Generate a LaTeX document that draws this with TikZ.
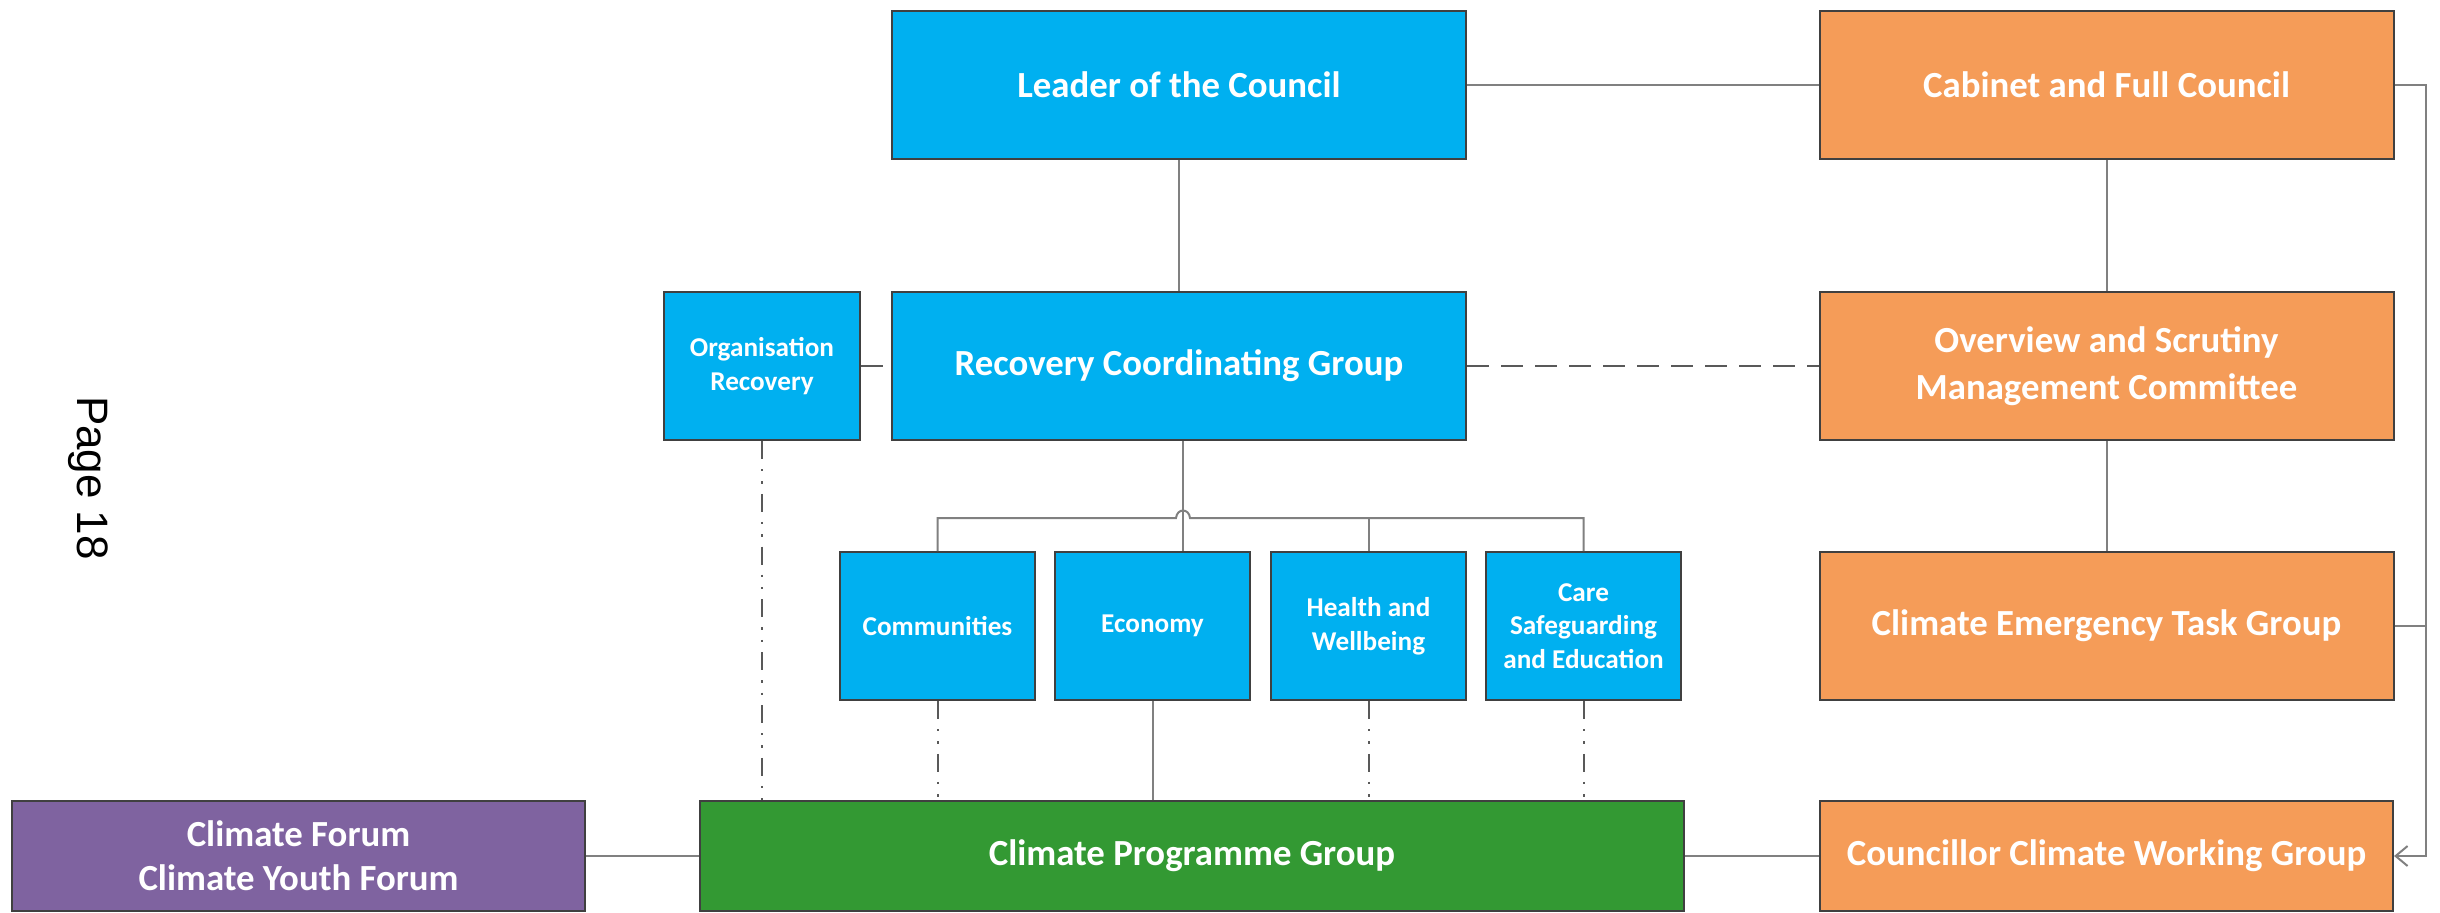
\documentclass[tikz,border=0pt]{standalone}
\usepackage{fontspec}
\setmainfont{Carlito}
\setsansfont{Liberation Sans}
\usetikzlibrary{arrows.meta}
\definecolor{cblue}{HTML}{00B0F0}
\definecolor{corange}{HTML}{F59C58}
\definecolor{cgreen}{HTML}{339933}
\definecolor{cpurple}{HTML}{7F63A0}
\definecolor{cborder}{HTML}{404040}
\definecolor{cline}{HTML}{808080}
\definecolor{cdash}{HTML}{595959}
\begin{document}
\begin{tikzpicture}[x=0.25pt,y=-0.25pt,
  box/.style={draw=cborder, line width=0.5pt, text=white, align=center, inner sep=0pt},
  bigbox/.style={box, minimum width=143.5pt, minimum height=37pt, font=\bfseries\fontsize{9.2}{11.7}\selectfont},
  smallbox/.style={box, minimum width=48.75pt, minimum height=37pt, font=\bfseries\fontsize{6.8}{8.4}\selectfont},
  botbox/.style={box, minimum height=27.5pt, font=\bfseries\fontsize{9.2}{11}\selectfont},
  conn/.style={draw=cline, line width=0.5pt},
  dconn/.style={draw=cdash, line width=0.6pt, dash pattern=on 5.5pt off 3pt},
  ddconn/.style={draw=cdash, line width=0.5pt, dash pattern=on 4.5pt off 2.5pt on 0.6pt off 2.5pt on 0.6pt off 2.5pt}
]
\useasboundingbox (0,0) rectangle (2440,912);
\begin{scope}
\clip (0,0) rectangle (2440,912);
% nodes
\node[bigbox, fill=cblue] (leader) at (1179,85) {Leader of the Council};
\node[bigbox, fill=corange] (cabinet) at (2106.5,85) {Cabinet and Full Council};
\node[smallbox, minimum width=49pt, fill=cblue] (orgrec) at (762,366) {Organisation\\Recovery};
\node[bigbox, fill=cblue] (rcg) at (1179,366) {Recovery Coordinating Group};
\node[bigbox, fill=corange] (overview) at (2106.5,366) {Overview and Scrutiny\\Management Committee};
\node[smallbox, fill=cblue] (comm) at (937.5,626) {Communities};
\node[smallbox, fill=cblue] (econ) at (1152.5,626) {Economy};
\node[smallbox, fill=cblue] (health) at (1368.5,626) {Health and\\Wellbeing};
\node[smallbox, fill=cblue] (care) at (1583.5,626) {Care\\Safeguarding\\and Education};
\node[bigbox, fill=corange] (cetg) at (2106.5,626) {Climate Emergency Task Group};
\node[botbox, minimum width=143.25pt, fill=cpurple] (forum) at (298.5,856) {Climate Forum\\Climate Youth Forum};
\node[botbox, minimum width=246pt, fill=cgreen] (cpg) at (1192,856) {Climate Programme Group};
\node[botbox, minimum width=143.25pt, fill=corange] (ccwg) at (2106.5,856) {Councillor Climate Working Group};
\coordinate (rail) at (2426,0);
% connectors
\draw[conn] (leader.east) -- (cabinet.west);
\draw[conn] (leader.south) -- (rcg.north);
\draw[conn] (cabinet.south) -- (overview.north);
\draw[conn] (overview.south) -- (cetg.north);
\draw[dconn] (rcg.east) -- (overview.west);
\draw[dconn] (orgrec.east) -- (rcg.west);
\draw[conn] ([xshift=1pt]rcg.south) -- ([xshift=1pt]rcg.south |- econ.north);
\draw[conn] (comm.north) |- (1176,518) .. controls (1177,508) and (1189,508) .. (1190,518) -| (care.north);
\draw[conn] (health.north) -- (health.north |- 0,518);
\draw[ddconn] (orgrec.south) -- (orgrec.south |- cpg.north);
\draw[ddconn] (comm.south) -- (comm.south |- cpg.north);
\draw[ddconn] (health.south) -- (health.south |- cpg.north);
\draw[ddconn] (care.south) -- (care.south |- cpg.north);
\draw[conn] (econ.south) -- (econ.south |- cpg.north);
\draw[conn] (forum.east) -- (cpg.west);
\draw[conn] (cpg.east) -- (ccwg.west);
\draw[conn, -{Straight Barb[length=3pt,width=5pt]}] (cabinet.east) -- (cabinet.east -| rail) |- (ccwg.east);
\draw[conn] (cetg.east) -- (cetg.east -| rail);
\end{scope}
\node[rotate=-90, font=\sffamily\fontsize{11}{13}\selectfont] (page) at (88,478) {Page 18};
\end{tikzpicture}
\end{document}
